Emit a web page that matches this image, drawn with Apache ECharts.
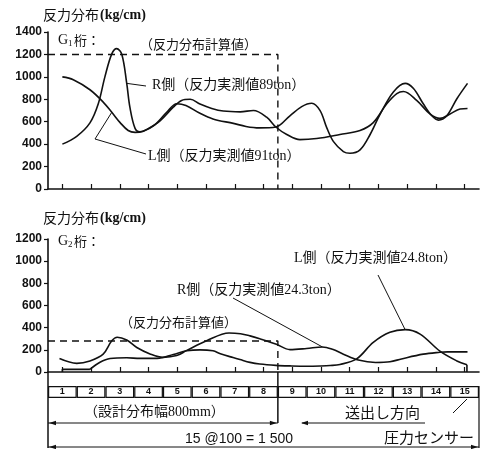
<!DOCTYPE html>
<html>
<head>
<meta charset="utf-8">
<script src="https://cdn.jsdelivr.net/npm/echarts@6/dist/echarts.min.js"></script>
<style>
  html, body { margin: 0; padding: 0; background: #fff; }
  #c { width: 484px; height: 449px; }
</style>
</head>
<body>
<div id="c"></div>
<script>
// Sensor numbering along the girder (15 pressure sensors @100mm)
const sensors = ['1','2','3','4','5','6','7','8','9','10','11','12','13','14','15'];
const sensorPos = [1,2,3,4,5,6,7,8,9,10,11,12,13,14,15];
const sensorCells = [1,1,1,1,1,1,1,1,1,1,1,1,1,1,1];

// G1 girder: reaction distribution (kg/cm) at sensor position
const g1Right = [[1.0,400],[1.5,470],[1.96,590],[2.25,760],[2.48,1000],[2.72,1205],[2.89,1252],[3.07,1200],
  [3.24,942],[3.35,730],[3.53,541],[3.7,510],[3.94,532],[4.4,608],[4.86,730],[5.15,790],[5.45,800],[5.79,757],
  [6.2,718],[6.6,695],[7.19,688],[7.65,700],[8.11,640],[8.43,553],[8.81,486],[9.27,440],[9.85,450],[10.66,486],
  [11.36,522],[11.82,592],[12.29,760],[12.64,851],[12.87,870],[13.33,790],[13.8,668],[14.14,630],[14.49,668],
  [14.84,714],[15.1,718]];
const g1Left = [[1.0,1000],[1.38,975],[1.96,885],[2.42,775],[2.72,684],[3.01,592],[3.29,522],[3.53,505],
  [3.82,516],[4.17,562],[4.63,683],[4.98,760],[5.3,745],[5.79,675],[6.24,625],[6.95,585],[7.39,558],[7.85,545],
  [8.43,553],[8.92,653],[9.33,735],[9.68,765],[9.97,699],[10.2,547],[10.43,425],[10.78,334],[11.01,319],
  [11.36,349],[11.71,486],[12.06,668],[12.52,866],[12.93,942],[13.22,896],[13.56,760],[13.86,653],[14.09,614],
  [14.38,653],[14.73,805],[15.1,942]];
const g1Calc = [[0.5,1200],[8.5,1200],[8.5,0]];
const g1Ticks = [0,200,400,600,800,1000,1200,1400];

// G2 girder: reaction distribution (kg/cm) at sensor position
const g2Right = [[0.9,121],[1.5,78],[1.96,100],[2.42,161],[2.72,282],[2.91,314],[3.24,288],[3.59,221],
  [4.05,163],[4.5,132],[4.98,148],[5.33,195],[6.02,282],[6.8,352],[7.2,345],[7.53,326],[7.87,300],[8.45,250],
  [8.92,202],[9.5,212],[10.05,226],[10.4,205],[10.78,161],[11.3,108],[11.9,86],[12.4,92],[12.8,118],
  [13.56,161],[14.14,178],[14.4,182],[15.1,182]];
const g2Left = [[1.96,24],[2.31,88],[2.66,122],[3.24,128],[3.7,123],[4.3,123],[4.86,158],[5.33,191],
  [5.79,200],[6.24,191],[6.5,165],[6.94,130],[7.18,112],[7.53,87],[7.87,72],[8.43,60],[8.92,55],[9.5,52],
  [9.97,54],[10.32,58],[10.66,68],[11.24,118],[11.82,267],[12.4,358],[12.93,382],[13.45,342],[14.14,188],
  [14.73,100],[15.08,65]];
const g2LeftStart = [[1,0],[1,24],[1.96,24]];
const g2LeftEnd = [[15.08,65],[15.08,0]];
const g2Calc = [[0.5,280],[8.5,280],[8.5,0]];
const g2Ticks = [0,200,400,600,800,1000,1200];

const INK = '#111';
const SERIF = "'Liberation Serif', 'Noto Sans CJK JP', serif";
const JP = "'Noto Sans CJK JP', sans-serif";
const SANS = "'Liberation Sans', Arial, sans-serif";

const chart = echarts.init(document.getElementById('c'), null, { renderer: 'canvas' });

function xAxisFor(gi) {
  return {
    type: 'value', gridIndex: gi, min: 0.5, max: 15.5,
    axisLine: { show: true, onZero: false, lineStyle: { color: INK, width: 1.6 } },
    axisTick: { show: true, inside: true, length: 5, customValues: sensorPos, lineStyle: { color: INK, width: 1.2 } },
    axisLabel: { show: false },
    splitLine: { show: false }
  };
}
function yAxisFor(gi, ticks) {
  return {
    type: 'value', gridIndex: gi, min: ticks[0], max: ticks[ticks.length - 1], interval: ticks[1] - ticks[0],
    axisLine: { show: true, onZero: false, lineStyle: { color: INK, width: 1.6 } },
    axisTick: { show: true, inside: false, length: 4, lineStyle: { color: INK, width: 1.2 } },
    axisLabel: { color: INK, fontSize: 12, fontWeight: 'bold', fontFamily: SANS, margin: 6,
                 formatter: (v) => String(v) },
    splitLine: { show: false }
  };
}
function curve(data, gi, extra) {
  return Object.assign({
    type: 'line', xAxisIndex: gi, yAxisIndex: gi, data: data,
    showSymbol: false, symbol: 'none', smooth: 0.35,
    lineStyle: { color: INK, width: 1.6 }, silent: true, z: 3
  }, extra || {});
}
function dashed(data, gi) {
  return curve(data, gi, { smooth: false, lineStyle: { color: INK, width: 1.4, type: [7, 5] }, z: 2 });
}
function plain(data, gi) {
  return curve(data, gi, { smooth: false });
}

const option = {
  animation: false,
  backgroundColor: '#fff',
  grid: [
    { left: 48, right: 5, top: 32, height: 157 },
    { left: 48, right: 5, top: 239, height: 133 },
    { left: 48, right: 5, top: 386, height: 12 }
  ],
  xAxis: [
    xAxisFor(0),
    xAxisFor(1),
    { type: 'category', gridIndex: 2, data: sensors, boundaryGap: true,
      axisLine: { show: false }, axisTick: { show: false }, axisLabel: { show: false }, splitLine: { show: false } }
  ],
  yAxis: [
    yAxisFor(0, g1Ticks),
    yAxisFor(1, g2Ticks),
    { type: 'value', gridIndex: 2, min: 0, max: 1, show: false }
  ],
  series: [
    curve(g1Right, 0),
    curve(g1Left, 0),
    dashed(g1Calc, 0),
    curve(g2Right, 1),
    curve(g2Left, 1),
    plain(g2LeftStart, 1),
    plain(g2LeftEnd, 1),
    dashed(g2Calc, 1),
    {
      type: 'bar', xAxisIndex: 2, yAxisIndex: 2, data: sensorCells, barWidth: '100%', silent: true,
      itemStyle: { color: '#fff', borderColor: INK, borderWidth: 1.2 },
      label: { show: true, position: 'inside', formatter: '{b}', color: INK, fontSize: 9, fontWeight: 'bold',
               fontFamily: SANS }
    }
  ]
};
chart.setOption(option);

// ---- annotations: titles, leaders and the sensor dimension band ----
const px = (gi, p) => chart.convertToPixel({ gridIndex: gi }, p);

function text(str, x, y, size, family, weight) {
  return { type: 'text', silent: true, z: 10,
    style: { text: str, x: x, y: y, fill: INK, font: (weight || 'normal') + ' ' + size + 'px ' + (family || SERIF),
             textAlign: 'left', align: 'left', textVerticalAlign: 'middle', verticalAlign: 'middle' } };
}
function line(points, w) {
  return { type: 'polyline', silent: true, z: 10, shape: { points: points },
    style: { stroke: INK, lineWidth: w || 1, fill: null } };
}
function arrow(x, y, dir) {
  // dir: -1 points left, +1 points right
  return { type: 'polygon', silent: true, z: 10,
    shape: { points: [[x, y], [x - dir * 7, y - 2.2], [x - dir * 7, y + 2.2]] },
    style: { fill: INK } };
}
function girderTag(num, x, y) {
  return [
    text('G', x, y, 14, SERIF),
    text(num, x + 10, y + 4, 9, SERIF),
    text('桁：', x + 16, y, 13, JP)
  ];
}
function unitTitle(x, y) {
  return [
    text('反力分布', x, y, 14, JP),
    text('(kg/cm)', x + 57, y, 14, SERIF, 'bold')
  ];
}

const g = [];
// G1 chart
g.push(...unitTitle(43, 15));
g.push(...girderTag('1', 58, 40));
g.push(text('（反力分布計算値）', 140, 44, 13, JP));
g.push(text('R側（反力実測値89ton）', 152, 85, 14, SERIF));
g.push(text('L側（反力実測値91ton）', 148, 156, 14, SERIF));
g.push(line([[146, 86], px(0, g1Right[8])]));
g.push(line([[146, 154], [95, 139], px(0, g1Left[4])]));

// G2 chart
g.push(...unitTitle(43, 218));
g.push(...girderTag('2', 58, 241));
g.push(text('（反力分布計算値）', 120, 322, 13, JP));
g.push(text('R側（反力実測値24.3ton）', 177, 290, 14, SERIF));
g.push(text('L側（反力実測値24.8ton）', 294, 258, 14, SERIF));
g.push(line([[233, 298], px(1, g2Right[20])]));
g.push(line([[378, 275], px(1, g2Left[24])]));

// dimension band under the sensor row
const base = px(1, [0.5, 0]);
const xL = base[0], y0 = base[1];
const xM = px(1, [8.5, 0])[0];
const xR = px(1, [15.5, 0])[0];
const yDim = 423, yAll = 447;
g.push(line([[xL, y0], [xL, yAll + 1]], 1.5));
g.push(line([[xM, y0], [xM, yDim]], 1.5));
g.push(line([[xR, 386], [xR, yAll + 1]], 1.2));
g.push(line([[xL, yDim], [xM, yDim]], 1));
g.push(arrow(xL + 1, yDim, -1), arrow(xM - 1, yDim, 1));
g.push(line([[xL, yAll], [xR, yAll]], 1));
g.push(arrow(xL + 1, yAll, -1), arrow(xR - 1, yAll, 1));
g.push(line([[302, yDim], [425, yDim]], 1));
g.push(arrow(301, yDim, -1));
g.push(line([[453, 413], [467, 399]], 1));
g.push(text('（設計分布幅800mm）', 84, 412, 14, SERIF));
g.push(text('送出し方向', 345, 412, 15, JP));
g.push(text('15 @100 = 1 500', 185, 439, 14, SANS));
g.push(text('圧力センサー', 384, 437, 15, JP));

chart.setOption({ graphic: g });
</script>
</body>
</html>
